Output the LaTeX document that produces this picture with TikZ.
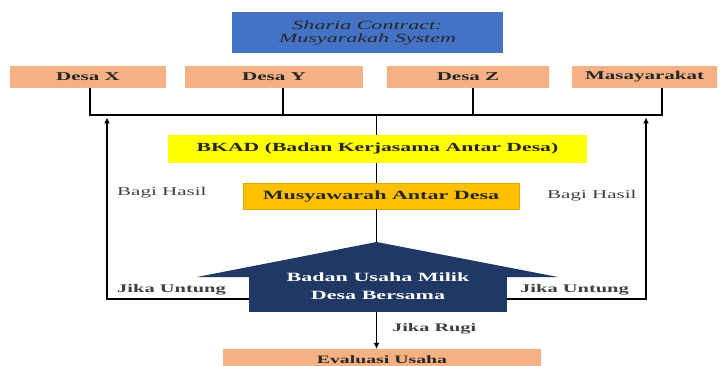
\documentclass[tikz,border=0pt]{standalone}
\usepackage{fontspec}
\setmainfont{Liberation Serif}[FakeStretch=1.75]
\usetikzlibrary{arrows.meta, positioning}

\definecolor{titleblue}{HTML}{4472C4}
\definecolor{desasalmon}{HTML}{F4B183}
\definecolor{bkadyellow}{HTML}{FFFF00}
\definecolor{musyorange}{HTML}{FFC000}
\definecolor{musyedge}{HTML}{E0A800}
\definecolor{bumnavy}{HTML}{203864}
\definecolor{inkgray}{HTML}{262626}
\definecolor{lblgray}{HTML}{3F3F3F}

\tikzset{
  boxtext/.style={font=\fontsize{12}{14}\selectfont\bfseries, text=inkgray, inner sep=0pt},
  desabox/.style={boxtext, fill=desasalmon, minimum height=22pt},
  conn/.style={line width=1.8pt, black},
  upconn/.style={conn, -{Latex[length=6pt,width=6pt]}},
  lbl/.style={font=\fontsize{12}{14}\selectfont, text=lblgray, inner sep=0pt},
  boldlbl/.style={font=\fontsize{11.7}{14}\selectfont\bfseries, text=lblgray, inner sep=0pt}
}

\begin{document}
\begin{tikzpicture}[x=1pt, y=-1pt]
\useasboundingbox (0,0) rectangle (720,366);

% title
\node[fill=titleblue, minimum width=271pt, minimum height=41pt, inner sep=0pt,
      text=inkgray, align=center, font=\fontsize{12.6}{13}\selectfont\itshape]
      (title) at (367.5,32.5) {Sharia Contract:\\Musyarakah System};

% partners
\node[desabox, minimum width=156pt] (desax) at (88,77) {Desa X};
\node[desabox, minimum width=178pt] (desay) at (274,77) {Desa Y};
\node[desabox, minimum width=162pt] (desaz) at (468,77) {Desa Z};
\node[desabox, minimum width=145pt] (masy) at (644.5,77) {Masayarakat};

\coordinate (hub) at (376.5,115);
\coordinate (apex) at (376.5,242);

\node[boxtext, fill=bkadyellow, minimum width=419pt, minimum height=28pt,
      font=\fontsize{12.4}{14}\selectfont\bfseries] (bkad) at (377.5,149)
      {BKAD (Badan Kerjasama Antar Desa)};
\node[boxtext, fill=musyorange, draw=musyedge, line width=0.6pt, minimum width=276pt,
      minimum height=26pt, font=\fontsize{12.6}{14}\selectfont\bfseries] (musyawarah)
      at (381,196) {Musyawarah Antar Desa};

% bumdesma arrow
\fill[bumnavy] (197,277) -- (apex) -- (558,277) -- cycle;
\node[fill=bumnavy, minimum width=258pt, minimum height=35pt, inner sep=0pt] (bum) at (378,294.5) {};
\node[boxtext, text=white, align=center, font=\fontsize{12.6}{18}\selectfont\bfseries]
      (bumtext) at (378,286) {Badan Usaha Milik\\Desa Bersama};

\node[desabox, minimum width=318pt, font=\fontsize{11.3}{14}\selectfont\bfseries]
      (evaluasi) at (382,360) {Evaluasi Usaha};

% bus lines
\draw[conn] ([xshift=2pt]desax.south) |- (hub) -| ([xshift=17.5pt]masy.south);
\draw[conn] ([xshift=9pt]desay.south) -- ([xshift=9pt]desay.south |- hub);
\draw[conn] ([xshift=5pt]desaz.south) -- ([xshift=5pt]desaz.south |- hub);
\draw[conn] (hub) -- (hub |- bkad.north);
\draw[conn] (hub |- bkad.south) -- (hub |- musyawarah.north);
\draw[conn] (hub |- musyawarah.south) -- (apex);

% profit sharing
\coordinate (lturn) at (107,299);
\coordinate (rturn) at (646,299);
\draw[upconn] (bum.west |- lturn) -- (lturn) -- (107,117.5);
\draw[upconn] (bum.east |- rturn) -- (rturn) -- (646,117.5);
\draw[conn, -{Latex[length=6pt,width=6pt]}] (bum.south -| hub) -- (evaluasi.north -| hub);

% labels
\node[boldlbl, anchor=west] (untungl) at (117,290) {Jika Untung};
\node[boldlbl, anchor=west] (untungr) at (520,290) {Jika Untung};
\node[lbl, anchor=west] (bagil) at (117,193) {Bagi Hasil};
\node[lbl, anchor=west] (bagir) at (547,196) {Bagi Hasil};
\node[boldlbl, anchor=west, font=\fontsize{11.6}{14}\selectfont\bfseries] (rugi) at (392,329) {Jika Rugi};
\end{tikzpicture}
\end{document}
